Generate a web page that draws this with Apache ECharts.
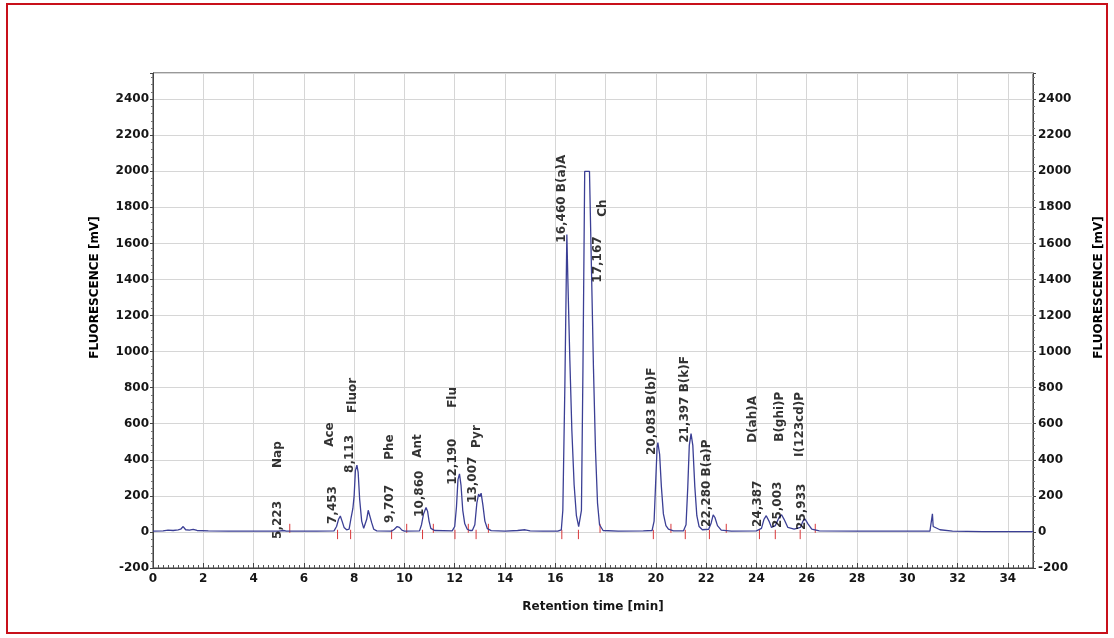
<!DOCTYPE html>
<html>
<head>
<meta charset="utf-8">
<script src="https://cdn.jsdelivr.net/npm/echarts@6/dist/echarts.min.js"></script>
<style>
  html, body { margin: 0; padding: 0; background: #fff; }
  #wrap { position: relative; width: 1114px; height: 638px; }
  #chart { position: absolute; left: 0; top: 0; width: 1114px; height: 638px; }
  #frame { position: absolute; left: 6px; top: 3px; width: 1098px; height: 627px; border: 2px solid #c8101a; pointer-events: none; }
</style>
</head>
<body>
<div id="wrap">
  <div id="chart"></div>
  <div id="frame"></div>
</div>
<script>
// detector trace, [retention time (min), fluorescence (mV)]
var trace = [
  [0, 5], [0.4, 6], [0.6, 10], [0.8, 8], [1.0, 12], [1.1, 15], [1.2, 30], [1.3, 12],
  [1.45, 10], [1.6, 14], [1.75, 8], [2.2, 6], [3, 5], [4, 5], [5.0, 5], [5.2, 8],
  [5.3, 5], [6.5, 5], [7.2, 6], [7.3, 30], [7.38, 70], [7.45, 88], [7.52, 60], [7.6, 25],
  [7.7, 12], [7.8, 15], [7.88, 80], [7.95, 130], [8.0, 200], [8.05, 340], [8.11, 370],
  [8.16, 330], [8.22, 180], [8.3, 60], [8.38, 20], [8.45, 25], [8.5, 70], [8.56, 120],
  [8.62, 110], [8.7, 50], [8.78, 15], [8.9, 6], [9.5, 5], [9.6, 15], [9.71, 30], [9.8, 25],
  [9.9, 10], [10.0, 5], [10.6, 6], [10.68, 40], [10.76, 100], [10.86, 135], [10.92, 115],
  [10.98, 60], [11.05, 20], [11.2, 8], [11.9, 6], [12.0, 30], [12.07, 140], [12.13, 290],
  [12.19, 322], [12.25, 260], [12.32, 120], [12.4, 45], [12.5, 15], [12.6, 8], [12.7, 8],
  [12.8, 40], [12.88, 160], [12.95, 210], [13.0, 195], [13.05, 215], [13.12, 150],
  [13.2, 60], [13.3, 18], [13.45, 7], [14.0, 5], [14.5, 8], [14.8, 12], [15.0, 6],
  [15.5, 4], [16.1, 5], [16.24, 12], [16.3, 120], [16.38, 800], [16.46, 1650],
  [16.5, 1400], [16.58, 950], [16.66, 560], [16.75, 260], [16.84, 90], [16.93, 30],
  [16.99, 28], [17.04, 120], [17.1, 900], [17.17, 2000], [17.36, 2000], [17.44, 1450],
  [17.52, 900], [17.6, 450], [17.68, 160], [17.76, 40], [17.9, 8], [18.5, 5], [19.5, 6],
  [19.85, 8], [19.93, 60], [20.0, 300], [20.05, 470], [20.08, 495], [20.15, 430],
  [20.22, 250], [20.3, 100], [20.4, 35], [20.5, 15], [20.7, 6], [21.1, 6], [21.2, 40],
  [21.27, 250], [21.33, 480], [21.4, 545], [21.47, 480], [21.55, 250], [21.63, 90],
  [21.72, 30], [21.85, 12], [22.1, 15], [22.2, 50], [22.28, 95], [22.35, 80], [22.45, 35],
  [22.6, 10], [23.0, 5], [24.0, 6], [24.2, 20], [24.3, 70], [24.39, 90], [24.5, 60],
  [24.6, 25], [24.75, 35], [24.9, 80], [25.0, 95], [25.1, 70], [25.25, 25], [25.5, 15],
  [25.75, 25], [25.85, 60], [25.93, 72], [26.05, 45], [26.2, 15], [26.5, 6], [28, 5],
  [30.9, 5], [31.0, 100], [31.03, 30], [31.1, 22], [31.3, 12], [31.8, 5], [33, 2], [35, 2]
];

// integration marks (min)
var peakStarts = [7.34, 7.86, 9.49, 10.72, 12.01, 12.85, 16.26, 16.92, 19.9, 21.17, 22.13, 24.12, 24.75, 25.74];
var peakEnds = [5.44, 10.09, 11.15, 12.54, 13.34, 17.78, 20.6, 22.8, 26.34];

// peak annotations: time (min), level where the text starts (mV), text
var labelTimes = [4.96, 4.96, 7.15, 7.03, 7.83, 7.95, 9.42, 9.42, 10.62, 10.54, 11.93, 11.93,
  12.73, 12.89, 16.26, 17.7, 17.9, 19.85, 21.17, 22.04, 24.07, 23.87, 24.87, 24.95, 25.82, 25.74];
var labelLevels = [-39, 355, 44, 472, 327, 660, 50, 400, 83, 411, 261, 688,
  161, 466, 1604, 1382, 1748, 427, 494, 28, 28, 494, 22, 500, 11, 416];
var labelTexts = ['5,223', 'Nap', '7,453', 'Ace', '8,113', 'Fluor', '9,707', 'Phe', '10,860', 'Ant',
  '12,190', 'Flu', '13,007', 'Pyr', '16,460 B(a)A', '17,167', 'Ch', '20,083 B(b)F', '21,397 B(k)F',
  '22,280 B(a)P', '24,387', 'D(ah)A', '25,003', 'B(ghi)P', '25,933', 'I(123cd)P'];

var xTicks = { min: 0, max: 35, step: 2 };
var yTicks = { min: -200, max: 2545, step: 200 };

function markPath(times, lo, hi) {
  var d = [];
  times.forEach(function (t) {
    d.push([t, lo], [t, hi], [t, '-']);
  });
  return d;
}

var annot = labelTimes.map(function (t, i) {
  return [t, labelLevels[i], labelTexts[i]];
});

var font = 'DejaVu Sans';
var txt = { fontFamily: font, fontWeight: 'bold', fontSize: 12, color: '#161616' };
var vtxt = Object.assign({}, txt, { color: '#000' }); // rotated text renders lighter

function yAxisOf(pos) {
  return {
    type: 'value',
    position: pos,
    min: yTicks.min,
    max: yTicks.max,
    interval: yTicks.step,
    name: 'FLUORESCENCE [mV]',
    nameLocation: 'middle',
    nameRotate: 90,
    nameGap: pos === 'left' ? 52 : 60,
    nameTextStyle: Object.assign({}, vtxt, { padding: [0, 0, 0, 66] }),
    axisLine: { show: true, onZero: false, lineStyle: { color: '#444', width: 1 } },
    axisTick: { show: true, length: 3, lineStyle: { color: '#444' } },
    minorTick: { show: true, splitNumber: 5, length: 2, lineStyle: { color: '#777' } },
    axisLabel: Object.assign({}, txt, {
      margin: pos === 'left' ? 4 : 5,
      showMaxLabel: false,
      formatter: function (v) { return String(v); }
    }),
    splitLine: { show: pos === 'left', lineStyle: { color: '#d6d6d6', width: 1 } }
  };
}

var chart = echarts.init(document.getElementById('chart'));
chart.setOption({
  animation: false,
  backgroundColor: '#fff',
  grid: { left: 153, right: 81, top: 73, bottom: 70, show: true, borderColor: '#333', borderWidth: 1 },
  xAxis: {
    type: 'value',
    min: xTicks.min,
    max: xTicks.max,
    interval: xTicks.step,
    name: 'Retention time [min]',
    nameLocation: 'middle',
    nameGap: 33,
    nameTextStyle: txt,
    axisLine: { show: true, onZero: false, lineStyle: { color: '#444', width: 1 } },
    axisTick: { show: true, inside: true, length: 5, lineStyle: { color: '#444' } },
    minorTick: { show: true, splitNumber: 10, length: 3, lineStyle: { color: '#555' } },
    axisLabel: Object.assign({}, txt, { margin: 5, showMaxLabel: false }),
    splitLine: { show: true, lineStyle: { color: '#d6d6d6', width: 1 } }
  },
  yAxis: [yAxisOf('left'), yAxisOf('right')],
  series: [
    {
      name: 'baseline marks',
      type: 'line',
      data: markPath(peakStarts, 12, -40).concat(markPath(peakEnds, -5, 45)),
      symbol: 'none',
      silent: true,
      lineStyle: { color: '#d9383a', width: 1 },
      z: 2
    },
    {
      name: 'FLD',
      type: 'line',
      data: trace,
      symbol: 'none',
      lineStyle: { color: '#3b3f95', width: 1.3 },
      z: 3
    },
    {
      name: 'peaks',
      type: 'scatter',
      data: annot,
      symbolSize: 0,
      silent: true,
      label: Object.assign({}, vtxt, {
        show: true,
        position: 'inside',
        rotate: 90,
        align: 'left',
        verticalAlign: 'middle',
        formatter: function (p) { return p.data[2]; }
      }),
      z: 4
    }
  ]
});
</script>
</body>
</html>
